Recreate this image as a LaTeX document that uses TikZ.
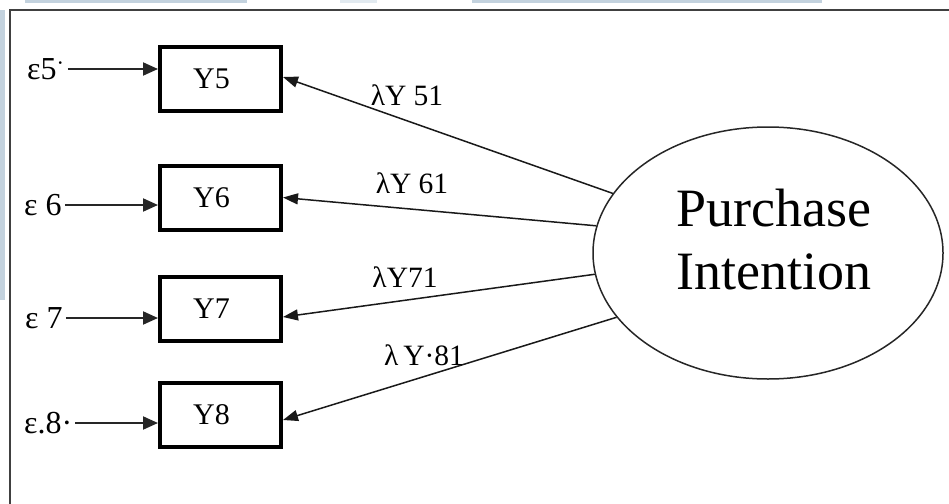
\documentclass[tikz,border=0pt]{standalone}
\usepackage{fontspec}
\setmainfont{Liberation Serif}
\usetikzlibrary{arrows.meta,shapes.geometric}

\definecolor{framegray}{HTML}{404040}
\definecolor{paleblue}{HTML}{C3D2DE}
\definecolor{fadeblue}{HTML}{E2EAF0}

\begin{document}
\begin{tikzpicture}[x=1pt,y=-1pt,
  obsbox/.style={draw,line width=4pt,minimum width=121pt,minimum height=64pt,
    inner sep=0pt,font=\fontsize{30}{32}\selectfont,
    execute at begin node={\kern-18pt}},
  errlabel/.style={inner xsep=3pt,inner ysep=0pt,anchor=west,font=\fontsize{32}{34}\selectfont},
  loadlabel/.style={inner sep=0pt,font=\fontsize{29.5}{32}\selectfont},
  latent/.style={draw=black!85,line width=1.5pt,ellipse,minimum width=350pt,
    minimum height=252pt,inner sep=0pt,font=\fontsize{54}{63}\selectfont},
  errarrow/.style={draw=black!85,line width=2pt,-{Triangle[length=15pt,width=13pt]}},
  loadarrow/.style={draw=black!90,line width=1.5pt,-{Triangle[length=15pt,width=11pt]}}
]
\useasboundingbox (0,0) rectangle (949,503);

% page decorations at the top and left edge
\fill[paleblue] (25,0) rectangle (247,3);
\fill[fadeblue] (340,0) rectangle (377,3);
\fill[paleblue] (472,0) rectangle (822,3);
\fill[paleblue] (0,10) rectangle (5,300);

% outer frame (open towards the right and bottom)
\draw[framegray,line width=2.5pt] (10,520) -- (10,10) -- (960,10);

% observed indicators
\node[obsbox] (y5) at (220.5,79)  {Y5};
\node[obsbox] (y6) at (220.5,197.5) {Y6};
\node[obsbox] (y7) at (220.5,309) {Y7};
\node[obsbox] (y8) at (220.5,415) {Y8};

% error terms
\node[errlabel] (e5) at (24,69)  {ε5\textsuperscript{·}};
\node[errlabel] (e6) at (21,205) {ε 6};
\node[errlabel] (e7) at (22,318) {ε 7};
\node[errlabel] (e8) at (21,423) {ε.8·};

\draw[errarrow] (e5.east) -- (y5.west |- e5.east);
\draw[errarrow] (e6.east) -- (y6.west |- e6.east);
\draw[errarrow] (e7.east) -- (y7.west |- e7.east);
\draw[errarrow] (e8.east) -- (y8.west |- e8.east);

% latent construct; extra depth below the text lifts it above the centre
\node[latent] (pi) at (768,253)
  {\raisebox{0pt}[\height][\dimexpr\depth+16pt]{\kern12pt\begin{tabular}{@{}c@{}}Purchase\\Intention\end{tabular}}};

% factor loadings
\draw[loadarrow] (pi.159.2) -- ([yshift=2pt]y5.east);
\draw[loadarrow] (pi.171.9) -- (y6.east);
\draw[loadarrow] (pi.187.6) -- ([yshift=-8pt]y7.east);
\draw[loadarrow] (pi.203.6) -- ([yshift=-5pt]y8.east);

\node[loadlabel] (l5) at (407,95)  {λY 51};
\node[loadlabel] (l6) at (412,183) {λY 61};
\node[loadlabel] (l7) at (405,277) {λY71};
\node[loadlabel] (l8) at (424,355) {λ\,Y·81};
\end{tikzpicture}
\end{document}
